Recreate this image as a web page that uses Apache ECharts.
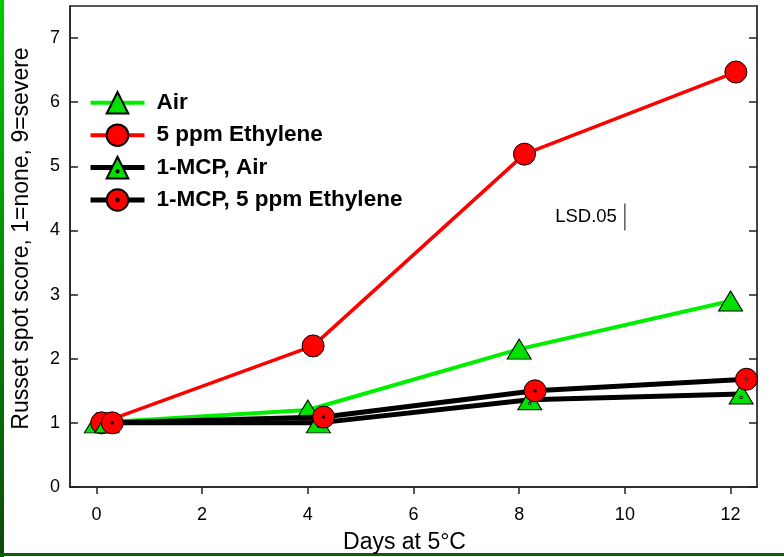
<!DOCTYPE html>
<html>
<head>
<meta charset="utf-8">
<script src="https://cdn.jsdelivr.net/npm/echarts@6/dist/echarts.min.js"></script>
<style>
html,body{margin:0;padding:0;background:#fff;}
#chart{width:784px;height:557px;}
</style>
</head>
<body>
<div id="chart"></div>
<script>
// ---- data ----
const seriesNames = ['Air', '5 ppm Ethylene', '1-MCP, Air', '1-MCP, 5 ppm Ethylene'];
const airDays = [0, 4, 8, 12];
const airScore = [1.0, 1.2, 2.15, 2.9];
const ethDays = [0.1, 4.1, 8.1, 12.1];
const ethScore = [1.0, 2.2, 5.19, 6.47];
const mcpAirDays = [0.2, 4.2, 8.2, 12.2];
const mcpAirScore = [1.0, 1.0, 1.36, 1.45];
const mcpEthDays = [0.3, 4.3, 8.3, 12.3];
const mcpEthScore = [1.0, 1.09, 1.5, 1.68];
const lsdDay = [10, 10];
const lsdRange = [4.0, 4.42];
const lsdLabel = 'LSD.05';
const xTicks = [0, 2, 4, 6, 8, 10, 12];
const yTicks = [0, 1, 2, 3, 4, 5, 6, 7];
const xTitle = 'Days at 5°C';
const yTitle = 'Russet spot score, 1=none, 9=severe';

const pairs = (xs, ys) => xs.map((x, i) => [x, ys[i]]);

const FONT = '"Liberation Sans", Arial, sans-serif';
const triDot = 'path://M0,-11 L12,9 L-12,9 Z M0,1.2 A1.2,1.2 0 1,0 0,3.6 A1.2,1.2 0 1,0 0,1.2 Z';
const circDot = 'path://M0,-11 A11,11 0 1,1 0,11 A11,11 0 1,1 0,-11 Z M0,-1.2 A1.2,1.2 0 1,0 0,1.2 A1.2,1.2 0 1,0 0,-1.2 Z';

const legendLine = [
  {color: '#00ee00', width: 4},
  {color: '#ff0000', width: 4},
  {color: '#000', width: 5},
  {color: '#000', width: 5}
];

const chart = echarts.init(document.getElementById('chart'), null, {renderer: 'canvas'});

const option = {
  backgroundColor: '#ffffff',
  animation: false,
  textStyle: {fontFamily: FONT},
  grid: {left: 70, right: 27, top: 6, bottom: 70, show: true, borderColor: '#222', borderWidth: 1.5,
         containLabel: false, outerBoundsMode: 'none'},
  legend: {
    left: 88, top: 91, orient: 'vertical', padding: 0,
    itemWidth: 54, itemHeight: 27, itemGap: 8.8,
    data: seriesNames.map((n, i) => ({name: n, lineStyle: legendLine[i]})),
    textStyle: {fontFamily: FONT, fontSize: 22.5, fontWeight: 'bold', color: '#000', padding: [0, 0, 0, 7]}
  },
  xAxis: [{
    type: 'value', min: -0.5, max: 12.5,
    name: xTitle, nameLocation: 'middle', nameGap: 44,
    nameTextStyle: {fontFamily: FONT, fontSize: 23, color: '#000', padding: [0, 18, 0, 0]},
    axisLine: {show: true, onZero: false, lineStyle: {color: '#222', width: 1.5}},
    axisTick: {show: true, inside: false, length: 7, customValues: xTicks, lineStyle: {color: '#222', width: 1.5}},
    axisLabel: {show: true, customValues: xTicks, margin: 19, fontFamily: FONT, fontSize: 18, color: '#000'},
    splitLine: {show: false}
  }],
  yAxis: [{
    type: 'value', min: 0, max: 7.5, position: 'left',
    name: yTitle, nameLocation: 'middle', nameGap: 37,
    nameTextStyle: {fontFamily: FONT, fontSize: 23, color: '#000', padding: [0, 0, 0, 16]},
    axisLine: {show: true, onZero: false, lineStyle: {color: '#222', width: 1.5}},
    axisTick: {show: true, inside: true, length: 8, customValues: yTicks, lineStyle: {color: '#222', width: 1.5}},
    axisLabel: {show: true, customValues: yTicks, margin: 10, fontFamily: FONT, fontSize: 18, color: '#000'},
    splitLine: {show: false}
  }, {
    type: 'value', min: 0, max: 7.5, position: 'right',
    axisLine: {show: true, onZero: false, lineStyle: {color: '#444', width: 2}},
    axisTick: {show: true, inside: true, length: 8, customValues: yTicks, lineStyle: {color: '#222', width: 1.5}},
    axisLabel: {show: false},
    splitLine: {show: false}
  }],
  series: [
    {
      name: seriesNames[0], type: 'line', data: pairs(airDays, airScore),
      symbol: 'triangle', symbolSize: [24, 20],
      lineStyle: {color: '#00ee00', width: 4},
      itemStyle: {color: '#00e000', borderColor: '#000', borderWidth: 1},
      z: 2
    },
    {
      name: seriesNames[1], type: 'line', data: pairs(ethDays, ethScore),
      symbol: 'circle', symbolSize: 22,
      lineStyle: {color: '#ff0000', width: 3.5},
      itemStyle: {color: '#ff0000', borderColor: '#000', borderWidth: 1},
      z: 3
    },
    {
      name: seriesNames[2], type: 'line', data: pairs(mcpAirDays, mcpAirScore),
      symbol: triDot, symbolSize: [24, 20],
      lineStyle: {color: '#000', width: 5},
      itemStyle: {color: '#00e000', borderColor: '#000', borderWidth: 1},
      z: 4
    },
    {
      name: seriesNames[3], type: 'line', data: pairs(mcpEthDays, mcpEthScore),
      symbol: circDot, symbolSize: 22,
      lineStyle: {color: '#000', width: 5},
      itemStyle: {color: '#ff0000', borderColor: '#000', borderWidth: 1},
      z: 5
    },
    {
      name: 'LSD', type: 'line', data: pairs(lsdDay, lsdRange),
      symbol: 'none', silent: true,
      lineStyle: {color: '#333', width: 1.2},
      markPoint: {
        symbol: 'circle', symbolSize: 0, silent: true,
        data: [{coord: [lsdDay[0], (lsdRange[0] + lsdRange[1]) / 2], value: lsdLabel}],
        label: {show: true, formatter: lsdLabel, position: 'left', distance: 8, fontFamily: FONT, fontSize: 18.5, color: '#000'}
      },
      z: 1
    }
  ],
  graphic: [
    {type: 'rect', left: 0, top: 0, shape: {width: 4, height: 557}, silent: true,
     style: {fill: new echarts.graphic.LinearGradient(0, 0, 0, 1, [{offset: 0, color: '#00cc00'}, {offset: 1, color: '#0a4a0a'}])}},
    {type: 'rect', left: 0, top: 553, shape: {width: 784, height: 3}, silent: true,
     style: {fill: '#0b5e0b'}}
  ]
};
chart.setOption(option);
</script>
</body>
</html>
